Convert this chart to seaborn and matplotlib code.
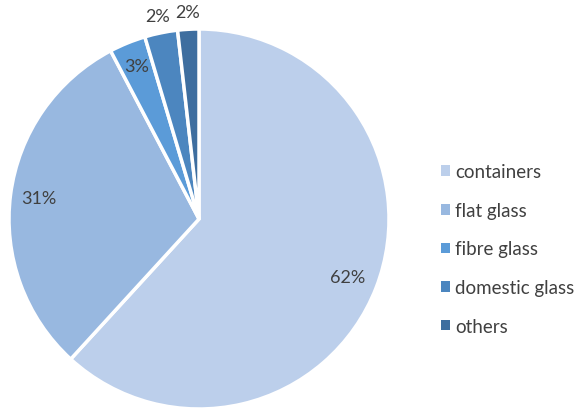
import numpy as np
import matplotlib
matplotlib.use("Agg")
import matplotlib.pyplot as plt
import seaborn as sns
from matplotlib.patches import Patch

categories = ["containers", "flat glass", "fibre glass", "domestic glass", "others"]
values = [61.8, 30.5, 3.1, 2.8, 1.8]
labels = ["62%", "31%", "3%", "2%", "2%"]
colors = ["#BCCFEB", "#98B8E0", "#5B9BD8", "#4C86BF", "#3E6E9F"]
label_radius = [0.84, 0.85, 0.87, 1.09, 1.09]

sns.set_theme(style="white")
plt.rcParams["font.family"] = ["Lato", "DejaVu Sans"]

fig = plt.figure(figsize=(5.81, 4.10), dpi=100)
ax = fig.add_axes([9 / 581, 0.0, 380 / 581, 380 / 410])
wedges, _ = ax.pie(values, colors=colors, startangle=90, counterclock=False,
                   radius=1.0, wedgeprops=dict(edgecolor="white", linewidth=2.5))
ax.set_xlim(-1, 1)
ax.set_ylim(-1, 1)
ax.set_aspect("equal")
ax.axis("off")

for w, lab, rf in zip(wedges, labels, label_radius):
    ang = np.deg2rad((w.theta1 + w.theta2) / 2)
    ax.text(rf * np.cos(ang), rf * np.sin(ang), lab, ha="center", va="center",
            fontsize=13, color="#404040", clip_on=False)

handles = [Patch(facecolor=c, edgecolor="none") for c in colors]
fig.legend(handles, categories, loc="center left", bbox_to_anchor=(424 / 581, 1 - 250 / 410),
           frameon=False, fontsize=13.5, labelcolor="#404040", handlelength=0.5,
           handleheight=0.5, handletextpad=0.25, labelspacing=1.15)

fig.savefig("out.png", dpi=100)
